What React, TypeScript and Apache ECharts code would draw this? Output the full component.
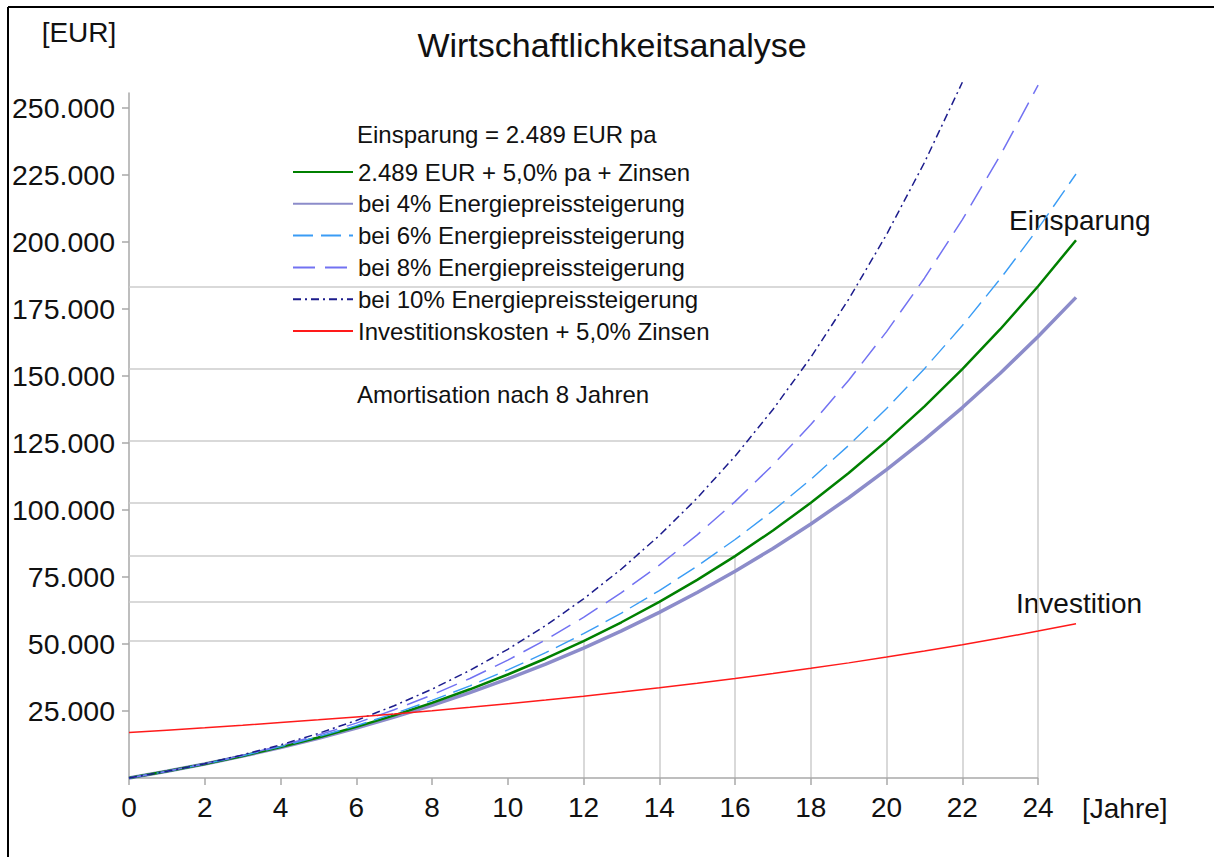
import React, { useEffect, useRef } from "react";
import * as echarts from "echarts";

const years = [0, 1, 2, 3, 4, 5, 6, 7, 8, 9, 10, 11, 12, 13, 14, 15, 16, 17, 18, 19, 20, 21, 22, 23, 24, 25];

const savingsBase = [0, 2489, 5227, 8232, 11525, 15127, 19060, 23349, 28018, 33097, 38613, 44598, 51084, 58109, 65708, 73920, 82791, 92364, 102688, 113812, 125792, 138685, 152552, 167459, 183479, 200682];
const savings4 = [0, 2489, 5202, 8154, 11362, 14842, 18612, 22692, 27102, 31863, 36999, 42533, 48492, 54901, 61791, 69190, 77133, 85651, 94782, 104563, 115035, 126241, 138225, 151035, 164721, 179337];
const savings6 = [0, 2489, 5252, 8311, 11691, 15418, 19519, 24026, 28970, 34386, 40310, 46783, 53847, 61548, 69934, 79058, 88976, 99748, 111437, 124114, 137850, 152725, 168823, 186234, 205053, 225383];
const savings8 = [0, 2489, 5302, 8470, 12029, 16016, 20474, 25448, 30986, 37142, 43975, 51547, 59928, 69192, 79421, 90702, 103133, 116817, 131867, 148406, 166569, 186498, 208352, 232301, 258530];
const savings10 = [0, 2489, 5351, 8631, 12375, 16638, 21478, 26962, 33160, 40154, 48030, 56888, 66833, 77986, 90479, 104454, 120074, 137515, 156971, 178658, 202814, 229699, 259603];
const investment = [17000, 17850, 18743, 19680, 20664, 21697, 22782, 23921, 25117, 26373, 27692, 29076, 30530, 32057, 33660, 35343, 37110, 38965, 40914, 42959, 45107, 47363, 49731, 52217, 54828, 57570];

const xTickValues = [0, 2, 4, 6, 8, 10, 12, 14, 16, 18, 20, 22, 24];
const yTickValues = [25000, 50000, 75000, 100000, 125000, 150000, 175000, 200000, 225000, 250000];
const dropYears = [12, 14, 16, 18, 20, 22, 24];

const seriesNames = [
  "2.489 EUR + 5,0% pa + Zinsen",
  "bei 4% Energiepreissteigerung",
  "bei 6% Energiepreissteigerung",
  "bei 8% Energiepreissteigerung",
  "bei 10% Energiepreissteigerung",
  "Investitionskosten + 5,0% Zinsen",
];

const FONT = '"Liberation Sans", Arial, Helvetica, sans-serif';
const AXIS_GREY = "#a8a8a8";

function pairs(vals: number[]) {
  return vals.map((v, i) => [years[i], v]);
}

function fmt(v: number) {
  return String(Math.round(v)).replace(/\B(?=(\d{3})+(?!\d))/g, ".");
}

export default function App() {
  const ref = useRef<HTMLDivElement>(null);

  useEffect(() => {
    document.body.style.margin = "0";
    if (!ref.current) return;
    const chart = echarts.init(ref.current, undefined, { renderer: "svg" });

    const dropData: any[] = [];
    dropYears.forEach((t) => {
      const g = savingsBase[t];
      dropData.push([{ coord: [0, g] }, { coord: [t, g] }]);
      dropData.push([{ coord: [t, g] }, { coord: [t, 0] }]);
    });
    // x-axis baseline, drawn only up to the last tick (24)
    dropData.push([
      { coord: [0, 0], lineStyle: { color: AXIS_GREY, width: 1.5 } },
      { coord: [xTickValues[xTickValues.length - 1], 0] },
    ]);

    const lineBase = {
      type: "line",
      symbol: "none",
      symbolSize: 0,
      showSymbol: false,
      clip: false,
      silent: true,
      z: 3,
    };

    const option: any = {
      animation: false,
      backgroundColor: "#ffffff",
      textStyle: { fontFamily: FONT },
      title: {
        text: "Wirtschaftlichkeitsanalyse",
        left: 612,
        top: 28,
        textAlign: "center",
        padding: 0,
        textStyle: { fontFamily: FONT, fontSize: 34, fontWeight: "normal", color: "#111" },
      },
      legend: {
        data: seriesNames,
        orient: "vertical",
        left: 287,
        top: 155,
        itemWidth: 60,
        itemHeight: 24,
        itemGap: 7.8,
        selectedMode: false,
        itemStyle: { opacity: 0, borderWidth: 0 },
        textStyle: { fontFamily: FONT, fontSize: 24, color: "#111", lineHeight: 24 },
      },
      grid: { left: 129, right: 138, top: 93, bottom: 79, containLabel: false },
      xAxis: {
        type: "value",
        min: 0,
        max: 25,
        axisLine: { show: false },
        axisTick: {
          show: true,
          length: 7,
          customValues: xTickValues,
          lineStyle: { color: AXIS_GREY, width: 1.5 },
        },
        axisLabel: {
          fontFamily: FONT,
          fontSize: 28,
          color: "#111",
          margin: 15,
          customValues: xTickValues,
          formatter: (v: number) => (v % 2 === 0 && v <= 24 ? String(v) : ""),
        },
        splitLine: { show: false },
      },
      yAxis: {
        type: "value",
        min: 0,
        max: 255600,
        axisLine: { show: true, lineStyle: { color: AXIS_GREY, width: 1.5 } },
        axisTick: { show: true, length: 7, customValues: yTickValues, lineStyle: { color: AXIS_GREY, width: 1.5 } },
        axisLabel: {
          fontFamily: FONT,
          fontSize: 28.5,
          color: "#111",
          margin: 14,
          customValues: yTickValues,
          formatter: (v: number) => (v > 0 && v % 25000 === 0 ? fmt(v) : ""),
        },
        splitLine: { show: false },
      },
      series: [
        {
          name: "drops",
          type: "line",
          data: [[0, 0]],
          symbol: "none",
          lineStyle: { width: 0, opacity: 0 },
          silent: true,
          z: 1,
          markLine: {
            silent: true,
            symbol: ["none", "none"],
            label: { show: false },
            lineStyle: { color: "#cccccc", width: 1.5, type: "solid" },
            emphasis: { disabled: true },
            data: dropData,
            z: 1,
          },
        },
        {
          ...lineBase,
          name: seriesNames[1],
          data: pairs(savings4),
          lineStyle: { color: "#8c8cca", width: 3.5, type: "solid" },
          itemStyle: { color: "#8c8cca" },
        },
        {
          ...lineBase,
          name: seriesNames[0],
          data: pairs(savingsBase),
          lineStyle: { color: "#008000", width: 2.5, type: "solid" },
          itemStyle: { color: "#008000" },
        },
        {
          ...lineBase,
          name: seriesNames[2],
          data: pairs(savings6),
          lineStyle: { color: "#3a9cf5", width: 1.4, type: [20, 8] },
          itemStyle: { color: "#3a9cf5" },
        },
        {
          ...lineBase,
          name: seriesNames[3],
          data: pairs(savings8),
          lineStyle: { color: "#7272f2", width: 1.5, type: [22, 10] },
          itemStyle: { color: "#7272f2" },
        },
        {
          ...lineBase,
          name: seriesNames[4],
          data: pairs(savings10),
          lineStyle: { color: "#1c1c8c", width: 1.5, type: [8, 4, 2, 4] },
          itemStyle: { color: "#1c1c8c" },
        },
        {
          ...lineBase,
          name: seriesNames[5],
          data: pairs(investment),
          lineStyle: { color: "#ff1a1a", width: 1.5, type: "solid" },
          itemStyle: { color: "#ff1a1a" },
        },
      ],
      graphic: [
        { type: "line", shape: { x1: 8, y1: 7, x2: 1214, y2: 7 }, style: { stroke: "#000", lineWidth: 2 }, silent: true },
        { type: "line", shape: { x1: 8, y1: 7, x2: 8, y2: 857 }, style: { stroke: "#000", lineWidth: 2 }, silent: true },
        {
          type: "text", x: 79, y: 32, silent: true,
          style: { text: "[EUR]", font: `28px ${FONT}`, fill: "#111", textAlign: "center", textVerticalAlign: "middle" },
        },
        {
          type: "text", x: 1082, y: 808, silent: true,
          style: { text: "[Jahre]", font: `28px ${FONT}`, fill: "#111", textAlign: "left", textVerticalAlign: "middle" },
        },
        {
          type: "text", x: 357, y: 134, silent: true,
          style: { text: "Einsparung = 2.489 EUR pa", font: `24px ${FONT}`, fill: "#111", textAlign: "left", textVerticalAlign: "middle" },
        },
        {
          type: "text", x: 357, y: 394, silent: true,
          style: { text: "Amortisation nach 8 Jahren", font: `24px ${FONT}`, fill: "#111", textAlign: "left", textVerticalAlign: "middle" },
        },
        {
          type: "text", x: 1009, y: 220, silent: true,
          style: { text: "Einsparung", font: `28px ${FONT}`, fill: "#111", textAlign: "left", textVerticalAlign: "middle" },
        },
        {
          type: "text", x: 1016, y: 603, silent: true,
          style: { text: "Investition", font: `28px ${FONT}`, fill: "#111", textAlign: "left", textVerticalAlign: "middle" },
        },
      ],
    };

    chart.setOption(option);
    return () => chart.dispose();
  }, []);

  return <div ref={ref} style={{ width: 1214, height: 857 }} />;
}
